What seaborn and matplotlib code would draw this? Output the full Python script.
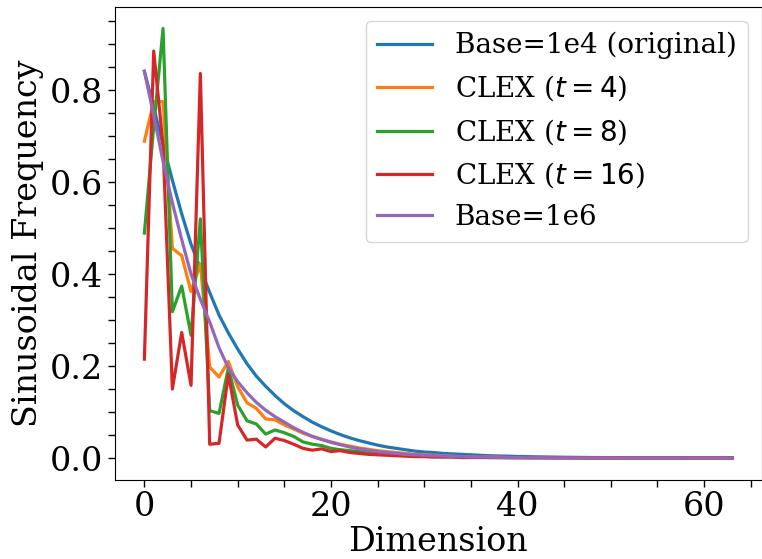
import matplotlib
matplotlib.use('Agg')
import matplotlib.pyplot as plt
import seaborn as sns
from matplotlib.ticker import AutoMinorLocator

# dimension index
dims = list(range(64))

# values
base_1e4 = [0.841, 0.762, 0.681, 0.604, 0.531, 0.465, 0.412, 0.360, 0.311, 0.272,
            0.237, 0.205, 0.178, 0.156, 0.136, 0.118, 0.103, 0.090, 0.078, 0.068,
            0.059, 0.051, 0.044, 0.038, 0.033, 0.028, 0.024, 0.021, 0.018, 0.015,
            0.013, 0.012, 0.010, 0.009, 0.008, 0.007, 0.006, 0.005, 0.0045, 0.004,
            0.0034, 0.0030, 0.0026, 0.0023, 0.0020, 0.0017, 0.0015, 0.0013, 0.0011, 0.0010,
            0.0009, 0.0008, 0.0007, 0.0006, 0.0005, 0.0004, 0.0004, 0.0003, 0.0003, 0.0003,
            0.0002, 0.0002, 0.0002, 0.0002]
clex_t4 = [0.689, 0.775, 0.775, 0.456, 0.440, 0.362, 0.422, 0.198, 0.176, 0.210,
           0.155, 0.120, 0.108, 0.085, 0.083, 0.072, 0.063, 0.054, 0.047, 0.041,
           0.035, 0.030, 0.026, 0.022, 0.019, 0.016, 0.014, 0.012, 0.010, 0.008,
           0.007, 0.006, 0.005, 0.004, 0.003, 0.003, 0.002, 0.002, 0.002, 0.001,
           0.001, 0.001, 0.001, 0.001, 0.0008, 0.0007, 0.0006, 0.0005, 0.0004, 0.0004,
           0.0003, 0.0003, 0.0002, 0.0002, 0.0002, 0.0002, 0.0001, 0.0001, 0.0001, 0.0001,
           0.0001, 0.0001, 0.0001, 0.0001]
clex_t8 = [0.489, 0.720, 0.934, 0.318, 0.374, 0.267, 0.520, 0.103, 0.097, 0.196,
           0.115, 0.081, 0.074, 0.052, 0.061, 0.055, 0.047, 0.035, 0.030, 0.027,
           0.021, 0.018, 0.016, 0.014, 0.012, 0.010, 0.009, 0.008, 0.006, 0.005,
           0.004, 0.004, 0.003, 0.003, 0.002, 0.002, 0.002, 0.001, 0.001, 0.001,
           0.001, 0.0008, 0.0007, 0.0006, 0.0005, 0.0005, 0.0004, 0.0004, 0.0003, 0.0003,
           0.0003, 0.0002, 0.0002, 0.0002, 0.0002, 0.0001, 0.0001, 0.0001, 0.0001, 0.0001,
           0.0001, 0.0001, 0.0001, 0.0001]
clex_t16 = [0.215, 0.885, 0.680, 0.150, 0.273, 0.158, 0.836, 0.030, 0.032, 0.182,
            0.072, 0.039, 0.041, 0.024, 0.043, 0.038, 0.030, 0.021, 0.017, 0.020,
            0.014, 0.016, 0.012, 0.010, 0.008, 0.007, 0.006, 0.005, 0.004, 0.003,
            0.003, 0.002, 0.002, 0.002, 0.001, 0.001, 0.001, 0.001, 0.001, 0.0008,
            0.0007, 0.0006, 0.0005, 0.0005, 0.0004, 0.0004, 0.0003, 0.0003, 0.0003, 0.0002,
            0.0002, 0.0002, 0.0002, 0.0001, 0.0001, 0.0001, 0.0001, 0.0001, 0.0001, 0.0001,
            0.0001, 0.0001, 0.0001, 0.0001]
base_1e6 = [0.841, 0.745, 0.645, 0.555, 0.475, 0.400, 0.345, 0.296, 0.240, 0.196,
            0.166, 0.142, 0.121, 0.104, 0.090, 0.078, 0.066, 0.056, 0.047, 0.040,
            0.034, 0.029, 0.024, 0.020, 0.017, 0.014, 0.012, 0.010, 0.008, 0.007,
            0.006, 0.005, 0.004, 0.003, 0.003, 0.002, 0.002, 0.002, 0.001, 0.001,
            0.001, 0.0008, 0.0007, 0.0006, 0.0005, 0.0004, 0.0003, 0.0003, 0.0002, 0.0002,
            0.0002, 0.0001, 0.0001, 0.0001, 0.0001, 0.0001, 0.0001, 0.0001, 0.0000, 0.0000,
            0.0000, 0.0000, 0.0000, 0.0000]

labels = ['Base=1e4 (original)', 'CLEX ($t=4$)', 'CLEX ($t=8$)', 'CLEX ($t=16$)', 'Base=1e6']
colors = ['#1f77b4', '#ff7f0e', '#2ca02c', '#d62728', '#9467bd']
series = [base_1e4, clex_t4, clex_t8, clex_t16, base_1e6]

plt.rcParams['font.family'] = ['DejaVu Serif']
plt.rcParams['mathtext.fontset'] = 'dejavusans'

fig = plt.figure(figsize=(7.62, 5.59), dpi=100)
ax = fig.add_axes([115 / 762, (559 - 479.5) / 559, (761.5 - 115) / 762, (479.5 - 7) / 559])

for lab, vals, col in zip(labels, series, colors):
    sns.lineplot(x=dims, y=vals, ax=ax, color=col, linewidth=2.3, label=lab)

ax.set_xlabel('Dimension', fontsize=24, labelpad=2)
ax.set_ylabel('Sinusoidal Frequency', fontsize=24)
ax.xaxis.set_minor_locator(AutoMinorLocator(4))
ax.yaxis.set_minor_locator(AutoMinorLocator(4))
ax.tick_params(which='both', labelsize=24, length=5, width=1)
ax.legend(loc='upper right', fontsize=20)

fig.savefig('out.png', dpi=100)
